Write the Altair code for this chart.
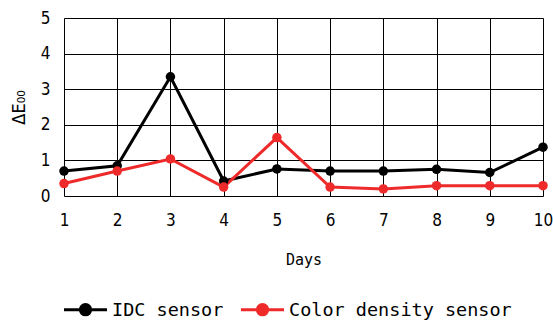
import altair as alt
import pandas as pd

days = [1, 2, 3, 4, 5, 6, 7, 8, 9, 10]
idc_sensor = [0.70, 0.85, 3.35, 0.42, 0.76, 0.70, 0.70, 0.75, 0.66, 1.37]
color_density_sensor = [0.35, 0.70, 1.04, 0.25, 1.64, 0.25, 0.20, 0.29, 0.29, 0.29]
series_names = ["IDC sensor", "Color density sensor"]
series_colors = ["#000000", "#EE2A2A"]
y_ticks = [0, 1, 2, 3, 4, 5]

rows = []
for d, v in zip(days, idc_sensor):
    rows.append({"day": d, "value": v, "series": series_names[0], "order": 0})
for d, v in zip(days, color_density_sensor):
    rows.append({"day": d, "value": v, "series": series_names[1], "order": 1})
df = pd.DataFrame(rows)

tick_font = "Liberation Sans Narrow, DejaVu Sans Condensed, sans-serif"
mono_font = "DejaVu Sans Mono, monospace"

x = alt.X("day:Q", title="Days",
          scale=alt.Scale(domain=[1, 10], nice=False, zero=False),
          axis=alt.Axis(values=days, format="d", grid=True, gridColor="#000000",
                        gridWidth=1, gridOpacity=1, ticks=False, domain=False,
                        labelFont=tick_font, labelFontSize=17, labelPadding=16,
                        labelColor="#000000", labelFlush=False,
                        titleFont=mono_font, titleFontSize=15, titleFontWeight="normal",
                        titlePadding=24, titleColor="#000000"))
y = alt.Y("value:Q", title="ΔE₀₀",
          scale=alt.Scale(domain=[0, 5], nice=False),
          axis=alt.Axis(values=y_ticks, grid=True, gridColor="#000000",
                        gridWidth=1, gridOpacity=1, ticks=False, domain=False,
                        labelFont=tick_font, labelFontSize=17, labelPadding=14,
                        labelColor="#000000", labelFlush=False,
                        titleFont=tick_font, titleFontSize=18, titleFontWeight="normal",
                        titlePadding=12, titleColor="#000000"))

legend = alt.Legend(
    title=None, orient="none", direction="horizontal",
    legendX=-2, legendY=268,
    symbolType="M-1,0L1,0M-0.24,0a0.24,0.24 0 1,0 0.48,0a0.24,0.24 0 1,0 -0.48,0",
    symbolSize=1850, symbolStrokeWidth=3, symbolOpacity=1,
    labelFont=mono_font, labelFontSize=18.5, labelColor="#000000",
    labelOffset=3, columnPadding=10, labelLimit=400)

stroke = alt.Stroke("series:N",
                    scale=alt.Scale(domain=series_names, range=series_colors),
                    legend=legend)
fill = alt.Fill("series:N",
                scale=alt.Scale(domain=series_names, range=series_colors),
                legend=legend)

base = alt.Chart(df)
lines = base.mark_line(strokeWidth=3).encode(x=x, y=y, stroke=stroke, order="order:Q")
points = base.mark_point(filled=True, size=90, opacity=1, strokeWidth=0).encode(x=x, y=y, fill=fill)

chart = alt.layer(lines, points).properties(
    width=479, height=178,
    autosize=alt.AutoSizeParams(type="none"),
    padding={"left": 64, "top": 18, "right": 10, "bottom": 124},
).configure_view(stroke="#000000", strokeWidth=1.5).configure(background="white")

chart.save("out.html", embed_options={"renderer": "svg", "actions": False})
